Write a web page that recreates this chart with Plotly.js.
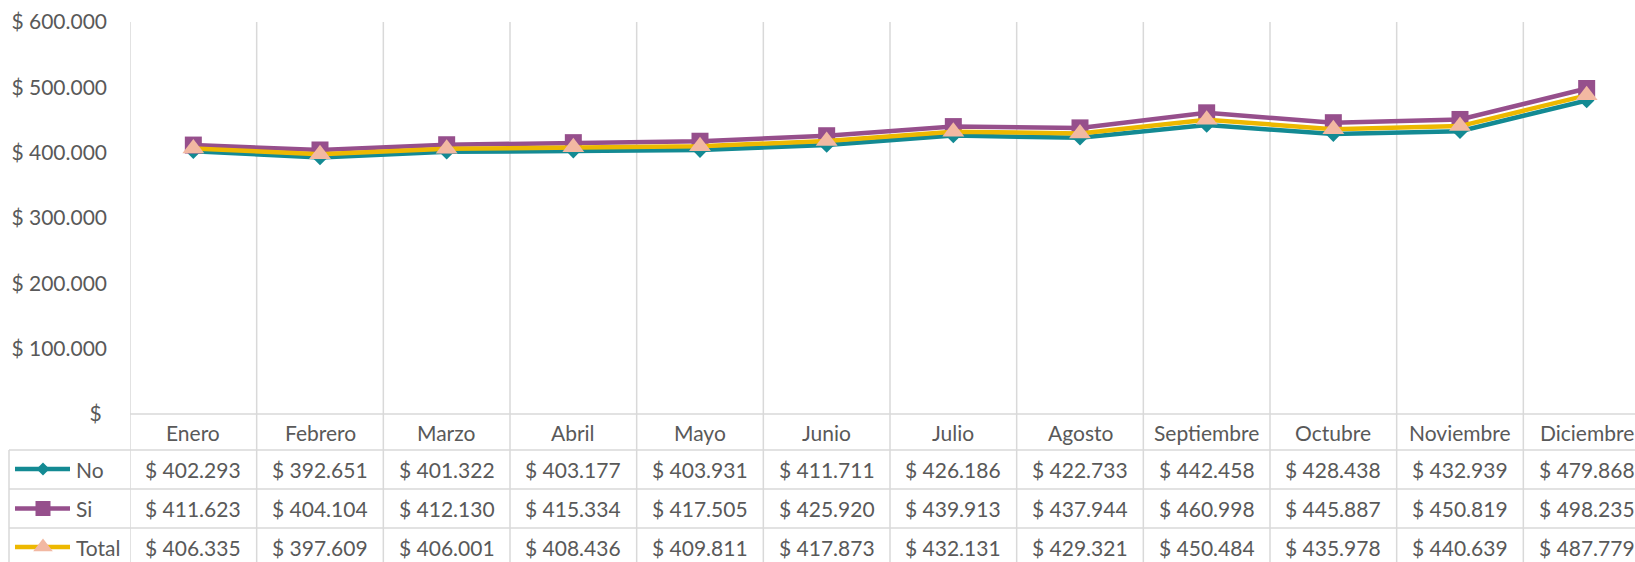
<!DOCTYPE html>
<html>
<head>
<meta charset="utf-8">
<script src="https://cdn.plot.ly/plotly-3.0.1.min.js"></script>
<style>
html,body{margin:0;padding:0;overflow:hidden;background:#fff;}
#chart{width:1652px;height:562px;}
</style>
</head>
<body>
<div id="chart"></div>
<script>
const months = ["Enero","Febrero","Marzo","Abril","Mayo","Junio","Julio","Agosto","Septiembre","Octubre","Noviembre","Diciembre"];
const seriesNames = ["No","Si","Total"];
const noValues = [402293,392651,401322,403177,403931,411711,426186,422733,442458,428438,432939,479868];
const siValues = [411623,404104,412130,415334,417505,425920,439913,437944,460998,445887,450819,498235];
const totalValues = [406335,397609,406001,408436,409811,417873,432131,429321,450484,435978,440639,487779];
const yTickVals = [0,100000,200000,300000,400000,500000,600000];
const yTickText = ["$ ","$ 100.000","$ 200.000","$ 300.000","$ 400.000","$ 500.000","$ 600.000"];

function fmt(n){
  const s = String(Math.round(n));
  return "$ " + s.replace(/\B(?=(\d{3})+(?!\d))/g, ".");
}

const W = 1652, H = 562;
const plotL = 130, plotR = 1650, plotT = 22, plotB = 414;
const FONT = "Lato, 'Open Sans', sans-serif";
const FS = 21;
const TXT = "#595959";
const GRID = "#D9D9D9";

const teal = "#138A93", purple = "#964F8C", yellow = "#EDB800", peach = "#F2B8A2";

const styles = [
  {line: teal, marker: {symbol: "diamond", size: 12, color: teal}},
  {line: purple, marker: {symbol: "square", size: 17, color: purple}},
  {line: yellow, marker: {symbol: "triangle-up", size: 19, color: peach}}
];
const allValues = [noValues, siValues, totalValues];

const xIdx = months.map((m,i)=>i);

const traces = allValues.map((vals, k) => ({
  type: "scatter", mode: "lines+markers",
  x: xIdx, y: vals, name: seriesNames[k],
  line: {color: styles[k].line, width: 4.5},
  marker: styles[k].marker,
  cliponaxis: false, hoverinfo: "skip", showlegend: false
}));

// table geometry (pixels)
const headerTop = 414, rowLines = [450, 489, 528];
const rowCenters = [469, 508.5, 547];
const headerCenter = 432;
const tableLeft = 9;
const keyX0 = 15, keyX1 = 70, keyXm = 43, labelX = 74;

allValues.forEach((vals, k) => {
  traces.push({
    type: "scatter", mode: "markers", xaxis: "x2", yaxis: "y2",
    x: [keyXm], y: [rowCenters[k]],
    marker: Object.assign({}, styles[k].marker, {size: styles[k].marker.size - 2}),
    hoverinfo: "skip", showlegend: false, cliponaxis: false
  });
});

const shapes = [];
for (let i = 0; i <= months.length; i++) {
  shapes.push({type: "line", xref: "x", yref: "y2", x0: i - 0.5, x1: i - 0.5, y0: plotT, y1: H + 5,
    line: {color: GRID, width: 1.5}, layer: "below"});
}
shapes.push({type: "line", xref: "x2", yref: "y2", x0: plotL, x1: W, y0: headerTop, y1: headerTop, line: {color: GRID, width: 1.5}, layer: "below"});
rowLines.forEach(y => shapes.push({type: "line", xref: "x2", yref: "y2", x0: tableLeft, x1: W, y0: y, y1: y, line: {color: GRID, width: 1.5}, layer: "below"}));
shapes.push({type: "line", xref: "x2", yref: "y2", x0: tableLeft, x1: tableLeft, y0: rowLines[0], y1: H + 5, line: {color: GRID, width: 1.5}, layer: "below"});
styles.forEach((s, k) => shapes.push({type: "line", xref: "x2", yref: "y2", x0: keyX0, x1: keyX1, y0: rowCenters[k], y1: rowCenters[k], line: {color: s.line, width: 4.5}, layer: "below"}));

const annotations = [];
months.forEach((m, i) => {
  annotations.push({xref: "x", yref: "y2", x: i, y: headerCenter, text: m, showarrow: false,
    font: {family: FONT, size: FS, color: TXT}, xanchor: "center", yanchor: "middle"});
  allValues.forEach((vals, k) => {
    annotations.push({xref: "x", yref: "y2", x: i, y: rowCenters[k], text: fmt(vals[i]), showarrow: false,
      font: {family: FONT, size: FS, color: TXT}, xanchor: "center", yanchor: "middle"});
  });
});
seriesNames.forEach((n, k) => {
  annotations.push({xref: "x2", yref: "y2", x: labelX, y: rowCenters[k], text: n, showarrow: false,
    font: {family: FONT, size: FS, color: TXT}, xanchor: "left", yanchor: "middle"});
});

const layout = {
  width: W, height: H,
  margin: {l: 0, r: 0, t: 0, b: 0, pad: 0},
  paper_bgcolor: "#fff", plot_bgcolor: "rgba(0,0,0,0)",
  showlegend: false,
  xaxis: {domain: [plotL / W, plotR / W], range: [-0.5, 11.5], showticklabels: false, showgrid: false,
    zeroline: false, showline: false, ticks: "", fixedrange: true, anchor: "y"},
  yaxis: {domain: [(H - plotB) / H, (H - plotT) / H], range: [0, 600000], tickvals: yTickVals, ticktext: yTickText,
    showgrid: false, zeroline: false, showline: false, ticks: "", ticklabelstandoff: 22,
    tickfont: {family: FONT, size: FS, color: TXT}, fixedrange: true, anchor: "x"},
  xaxis2: {domain: [0, 1], range: [0, W], visible: false, anchor: "y2", fixedrange: true},
  yaxis2: {domain: [0, 1], range: [H, 0], visible: false, anchor: "x2", fixedrange: true},
  shapes: shapes,
  annotations: annotations
};

Plotly.newPlot("chart", traces, layout, {displayModeBar: false, staticPlot: true});
</script>
</body>
</html>
